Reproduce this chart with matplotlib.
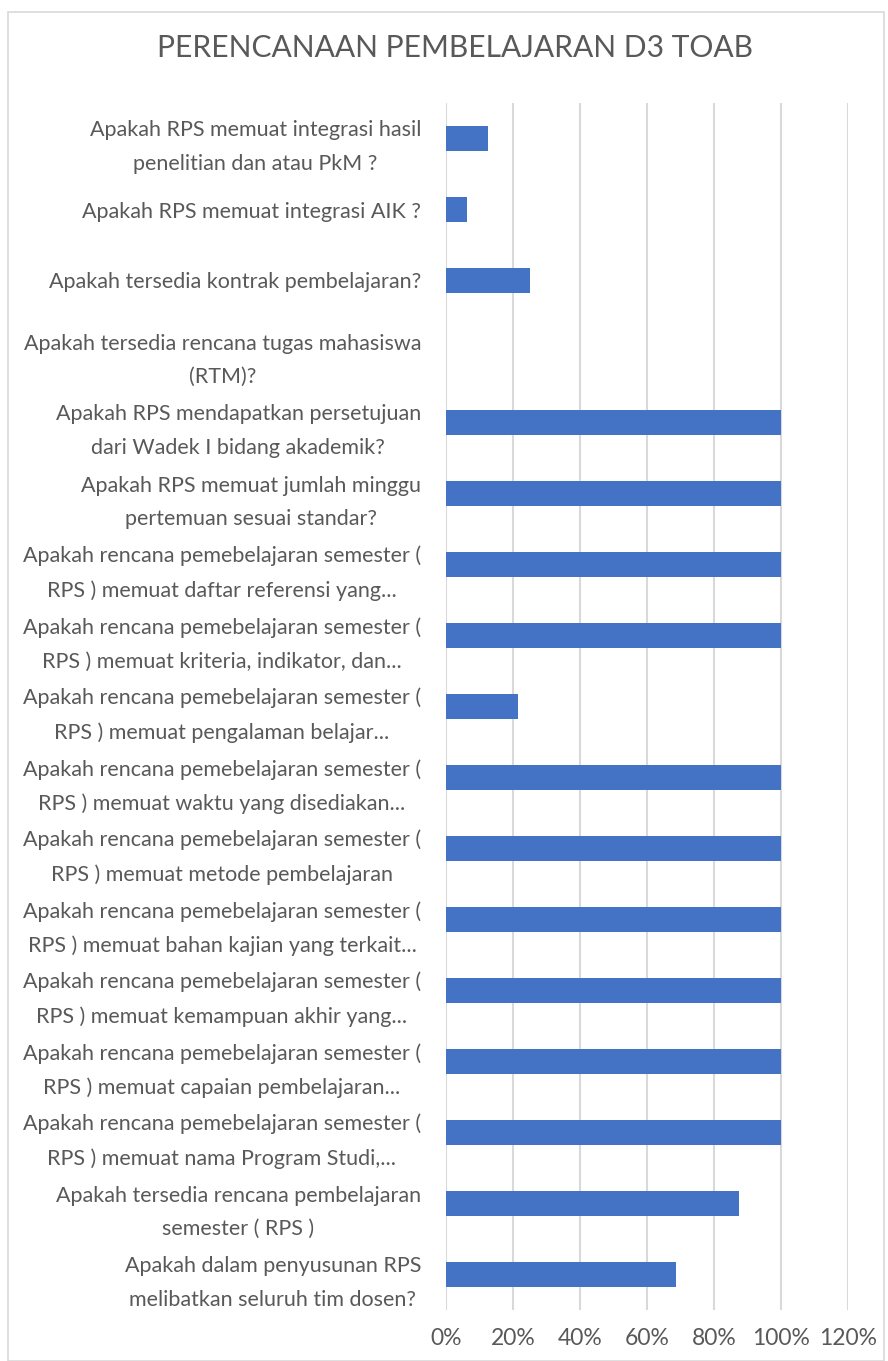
import matplotlib.pyplot as plt
from matplotlib.patches import Rectangle
from matplotlib.ticker import FuncFormatter

plt.rcParams['font.family'] = ['Lato', 'DejaVu Sans']

title = 'PERENCANAAN PEMBELAJARAN D3 TOAB'

# top to bottom as drawn
labels = [
    'Apakah RPS memuat integrasi hasil\npenelitian dan atau PkM ?',
    'Apakah RPS memuat integrasi AIK ?',
    'Apakah tersedia kontrak pembelajaran?',
    'Apakah tersedia rencana tugas mahasiswa\n(RTM)?',
    'Apakah RPS mendapatkan persetujuan\ndari Wadek I bidang akademik?',
    'Apakah RPS memuat jumlah minggu\npertemuan sesuai standar?',
    'Apakah rencana pemebelajaran semester (\nRPS ) memuat daftar referensi yang...',
    'Apakah rencana pemebelajaran semester (\nRPS ) memuat kriteria, indikator, dan...',
    'Apakah rencana pemebelajaran semester (\nRPS ) memuat pengalaman belajar...',
    'Apakah rencana pemebelajaran semester (\nRPS ) memuat waktu yang disediakan...',
    'Apakah rencana pemebelajaran semester (\nRPS ) memuat metode pembelajaran',
    'Apakah rencana pemebelajaran semester (\nRPS ) memuat bahan kajian yang terkait...',
    'Apakah rencana pemebelajaran semester (\nRPS ) memuat kemampuan akhir yang...',
    'Apakah rencana pemebelajaran semester (\nRPS ) memuat capaian pembelajaran...',
    'Apakah rencana pemebelajaran semester (\nRPS ) memuat nama Program Studi,...',
    'Apakah tersedia rencana pembelajaran\nsemester ( RPS )',
    'Apakah dalam penyusunan RPS\nmelibatkan seluruh tim dosen?',
]
values = [0.125, 0.0625, 0.25, 0.0, 1.0, 1.0, 1.0, 1.0, 0.216,
          1.0, 1.0, 1.0, 1.0, 1.0, 1.0, 0.875, 0.6875]
xticks = [0, 0.2, 0.4, 0.6, 0.8, 1.0, 1.2]

W, H = 888, 1361
fig = plt.figure(figsize=(W / 100, H / 100), dpi=100)
fig.patches.append(Rectangle((8 / W, 0), (884 - 8) / W, 1 - 12 / H,
                             transform=fig.transFigure, fill=False,
                             edgecolor='#d9d9d9', lw=1.2))

ax = fig.add_axes([446 / W, 51 / H, (848 - 446) / W, (1310 - 103) / H])
pos = list(range(len(labels)))
ax.barh(pos, values, height=0.345, color='#4472C4', zorder=3)
ax.set_ylim(len(labels) - 0.5, -0.5)
ax.set_xlim(0, 1.2)
ax.set_xticks(xticks)
ax.xaxis.set_major_formatter(FuncFormatter(lambda v, p: f'{v * 100:.0f}%'))
ax.set_yticks(pos)
ax.set_yticklabels(labels, multialignment='center', linespacing=1.85)
ax.grid(axis='x', color='#d9d9d9', lw=1.5, zorder=0)
for s in ax.spines.values():
    s.set_visible(False)
ax.tick_params(length=0, colors='#595959')
ax.tick_params(axis='y', pad=18, labelsize=15.5)
ax.tick_params(axis='x', pad=13, labelsize=16.5)

fig.text(455 / W, 1 - 48 / H, title, ha='center', va='center',
         fontsize=21.6, color='#595959')

fig.savefig('out.png', dpi=100)
